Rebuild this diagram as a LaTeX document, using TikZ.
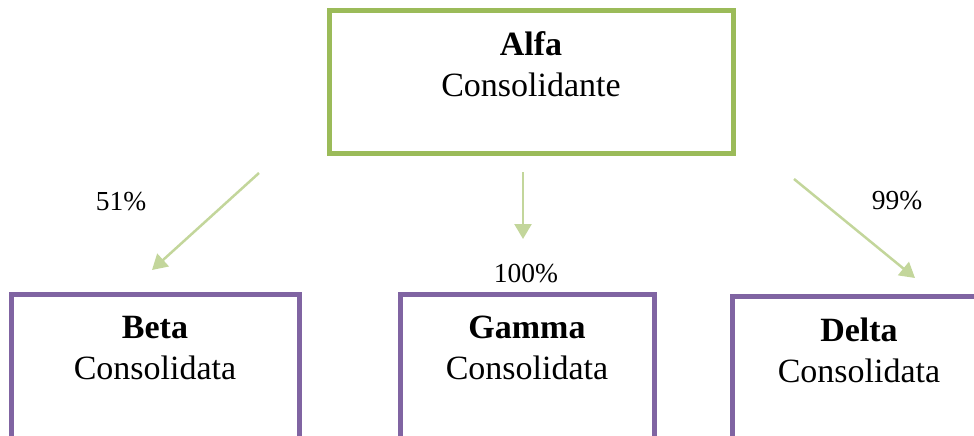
\documentclass[tikz,border=0pt]{standalone}
\usepackage{fontspec}
\setmainfont{Liberation Serif}
\usepackage{tikz}
\usetikzlibrary{arrows.meta}
\usetikzlibrary{positioning}

\definecolor{boxgreen}{HTML}{9BBB59}
\definecolor{boxpurple}{HTML}{8064A2}
\definecolor{arrowgreen}{HTML}{C3D69B}

\tikzset{
    company/.style={draw, line width=5pt, inner sep=0pt, minimum width=#1},
    parent/.style={company=404pt, draw=boxgreen, minimum height=142pt},
    child/.style={company=#1, draw=boxpurple, minimum height=160pt},
    boxtext/.style={align=center, inner sep=0pt, anchor=base, font=\fontsize{34}{41}\selectfont},
    share/.style={inner sep=0pt, anchor=base, font=\fontsize{27.5}{32}\selectfont},
    link/.style={color=arrowgreen, line width=2.5pt, -{Triangle[length=15pt,width=17pt]}}
}

\begin{document}
\begin{tikzpicture}[x=1pt, y=-1pt]
    \useasboundingbox (0,0) rectangle (974,436);
    \clip (0,0) rectangle (974,436);
\begin{scope}
    \node[parent] (alfa) at (531,82) {};
    \node[child=288pt] (beta) at (155,374) {};
    \node[child=254pt] (gamma) at (527,374) {};
    \node[child=254pt] (delta) at (859,376) {};

    % base anchor sits on the second line
    \node[boxtext] (alfat) at (531,96) {\textbf{Alfa}\\Consolidante};
    \node[boxtext] (betat) at (155,379) {\textbf{Beta}\\Consolidata};
    \node[boxtext] (gammat) at (527,379) {\textbf{Gamma}\\Consolidata};
    \node[boxtext] (deltat) at (859,382) {\textbf{Delta}\\Consolidata};

    \node[share] (s51) at (121,210) {51\%};
    \node[share] (s100) at (526,282) {100\%};
    \node[share] (s99) at (897,209) {99\%};

    \coordinate (a1) at (259,173);
    \coordinate (b1) at (152,270);
    \coordinate (a2) at (523,172);
    \coordinate (b2) at (523,239);
    \coordinate (a3) at (794,179);
    \coordinate (b3) at (915,278);

    \draw [link] (a1) -- (b1);
    \draw [link] (a2) -- (b2);
    \draw [link] (a3) -- (b3);
\end{scope}
\end{tikzpicture}
\end{document}
